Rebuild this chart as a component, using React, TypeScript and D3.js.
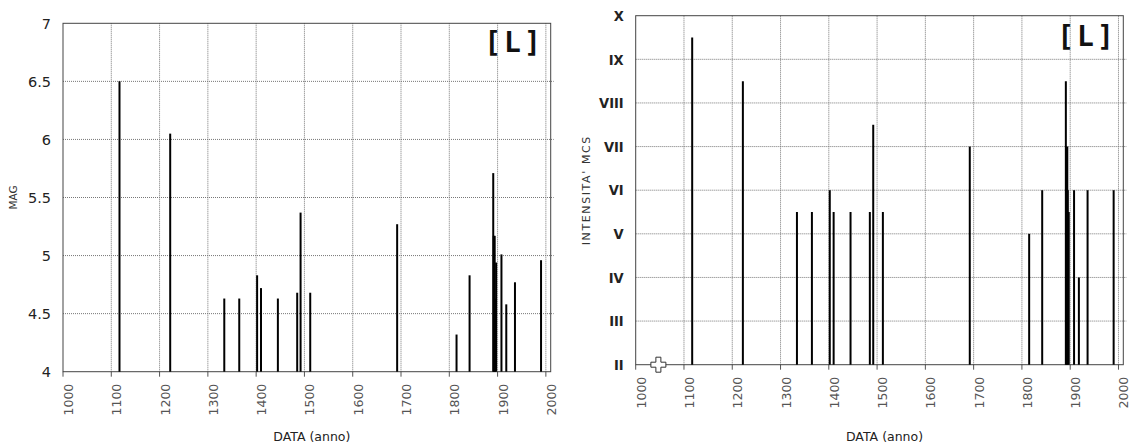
import { useEffect, useRef } from "react";
import * as d3 from "d3";

// earthquake history for site [L]: year, magnitude, MCS intensity
const YEARS = [
  1117, 1222, 1334, 1365, 1402, 1410, 1445, 1485, 1492, 1512, 1692, 1815,
  1842, 1891, 1892, 1894, 1895, 1897, 1908, 1918, 1936, 1990,
];
const MAG = [
  6.5, 6.05, 4.63, 4.63, 4.83, 4.72, 4.63, 4.68, 5.37, 4.68, 5.27, 4.32, 4.83,
  5.71, 5.17, 5.17, 4.63, 4.94, 5.01, 4.58, 4.77, 4.96,
];
const MCS = [
  9.5, 8.5, 5.5, 5.5, 6, 5.5, 5.5, 5.5, 7.5, 5.5, 7, 5, 6, 8.5, 7, 7, 6, 5.5,
  6, 4, 6, 6,
];

const YEAR_TICKS = [1000, 1100, 1200, 1300, 1400, 1500, 1600, 1700, 1800, 1900, 2000];
const MAG_TICKS = [4, 4.5, 5, 5.5, 6, 6.5, 7];
const MCS_TICKS = [2, 3, 4, 5, 6, 7, 8, 9, 10];
const MCS_LABELS = ["II", "III", "IV", "V", "VI", "VII", "VIII", "IX", "X"];
const CROSS_POINT = { year: 1047, value: 2 };

interface Panel {
  x0: number;
  x1: number;
  y0: number;
  y1: number;
  yDomain: [number, number];
  yTicks: number[];
  yFormat: (v: number, i: number) => string;
  yFont: string;
  yFontSize: number;
  yWeight: string;
  yLabel: string;
  yLabelSize: number;
  yLabelSpacing: number;
  values: number[];
  tagX: number;
  tagY: number;
}

function drawPanel(svg: d3.Selection<SVGSVGElement, unknown, null, undefined>, p: Panel) {
  const x = d3.scaleLinear().domain([1000, 2010]).range([p.x0, p.x1]);
  const y = d3.scaleLinear().domain(p.yDomain).range([p.y1, p.y0]);
  const g = svg.append("g");

  // Grid
  g.selectAll(".vgrid")
    .data(YEAR_TICKS.slice(1))
    .join("line")
    .attr("x1", (d) => x(d))
    .attr("x2", (d) => x(d))
    .attr("y1", p.y0)
    .attr("y2", p.y1)
    .attr("stroke", "#777")
    .attr("stroke-dasharray", "1,1");
  g.selectAll(".hgrid")
    .data(p.yTicks.slice(1, -1))
    .join("line")
    .attr("x1", p.x0)
    .attr("x2", p.x1 + 3)
    .attr("y1", (d) => y(d))
    .attr("y2", (d) => y(d))
    .attr("stroke", "#777")
    .attr("stroke-dasharray", "1,1");

  // Bottom ticks
  g.selectAll(".xtick")
    .data(YEAR_TICKS)
    .join("line")
    .attr("x1", (d) => x(d))
    .attr("x2", (d) => x(d))
    .attr("y1", p.y1)
    .attr("y2", p.y1 + 5)
    .attr("stroke", "#555");

  // Frame
  g.append("rect")
    .attr("x", p.x0)
    .attr("y", p.y0)
    .attr("width", p.x1 - p.x0)
    .attr("height", p.y1 - p.y0)
    .attr("fill", "none")
    .attr("stroke", "#444");

  // Bars
  g.selectAll(".bar")
    .data(YEARS)
    .join("line")
    .attr("x1", (d) => x(d))
    .attr("x2", (d) => x(d))
    .attr("y1", p.y1)
    .attr("y2", (_, i) => y(p.values[i]))
    .attr("stroke", "#000")
    .attr("stroke-width", 2);

  // X tick labels
  g.selectAll(".xlab")
    .data(YEAR_TICKS)
    .join("text")
    .attr("transform", (d) => `translate(${x(d) + 10},${p.y1 + 12}) rotate(-90)`)
    .attr("text-anchor", "end")
    .attr("fill", "#555")
    .attr("font-family", "DejaVu Sans, sans-serif")
    .attr("font-size", "12.5px")
    .text((d) => String(d));

  // Y tick labels
  g.selectAll(".ylab")
    .data(p.yTicks)
    .join("text")
    .attr("x", p.x0 - 12)
    .attr("y", (d) => y(d))
    .attr("dy", "0.36em")
    .attr("text-anchor", "end")
    .attr("fill", "#222")
    .attr("font-family", p.yFont)
    .attr("font-weight", p.yWeight)
    .attr("font-size", `${p.yFontSize}px`)
    .text((d, i) => p.yFormat(d, i));

  g.append("text")
    .attr("x", (p.x0 + p.x1) / 2 + 5)
    .attr("y", 441)
    .attr("text-anchor", "middle")
    .attr("fill", "#222")
    .attr("font-family", "DejaVu Sans, sans-serif")
    .attr("font-size", "12.5px")
    .text("DATA (anno)");

  g.append("text")
    .attr("transform", `translate(${p.x0 - 46},${(p.y0 + p.y1) / 2}) rotate(-90)`)
    .attr("text-anchor", "middle")
    .attr("fill", "#333")
    .attr("font-family", "DejaVu Sans, sans-serif")
    .attr("font-size", `${p.yLabelSize}px`)
    .attr("letter-spacing", `${p.yLabelSpacing}px`)
    .text(p.yLabel);

  g.append("text")
    .attr("x", p.tagX)
    .attr("y", p.tagY)
    .attr("text-anchor", "middle")
    .attr("fill", "#111")
    .attr("font-family", "DejaVu Sans Mono, monospace")
    .attr("font-weight", "bold")
    .attr("font-size", "28px")
    .attr("letter-spacing", "3px")
    .text("[L]");

  return { x, y, g };
}

export default function App() {
  const svgRef = useRef<SVGSVGElement>(null);

  useEffect(() => {
    if (!svgRef.current) return;
    const svg = d3.select(svgRef.current);
    svg.selectAll("*").remove();

    drawPanel(svg, {
      x0: 63,
      x1: 550.7,
      y0: 23.3,
      y1: 371.7,
      yDomain: [4, 7],
      yTicks: MAG_TICKS,
      yFormat: (v) => String(v),
      yFont: "DejaVu Sans, sans-serif",
      yFontSize: 14.5,
      yWeight: "normal",
      yLabel: "MAG",
      yLabelSize: 10.5,
      yLabelSpacing: 0,
      values: MAG,
      tagX: 514,
      tagY: 52,
    });

    const right = drawPanel(svg, {
      x0: 635.7,
      x1: 1123.3,
      y0: 15.7,
      y1: 364.7,
      yDomain: [2, 10],
      yTicks: MCS_TICKS,
      yFormat: (_, i) => MCS_LABELS[i],
      yFont: "'Liberation Sans Narrow', 'DejaVu Sans Condensed', sans-serif",
      yFontSize: 14.5,
      yWeight: "bold",
      yLabel: "INTENSITA' MCS",
      yLabelSize: 11,
      yLabelSpacing: 1.6,
      values: MCS,
      tagX: 1087,
      tagY: 46,
    });

    right.g
      .append("path")
      .attr("d", d3.symbol().type(d3.symbolCross).size(125)())
      .attr(
        "transform",
        `translate(${right.x(CROSS_POINT.year)},${right.y(CROSS_POINT.value)})`
      )
      .attr("fill", "#fff")
      .attr("stroke", "#333");
  }, []);

  return (
    <svg
      ref={svgRef}
      width={1131}
      height={444}
      style={{ position: "absolute", left: 0, top: 0, background: "#fff" }}
    />
  );
}
